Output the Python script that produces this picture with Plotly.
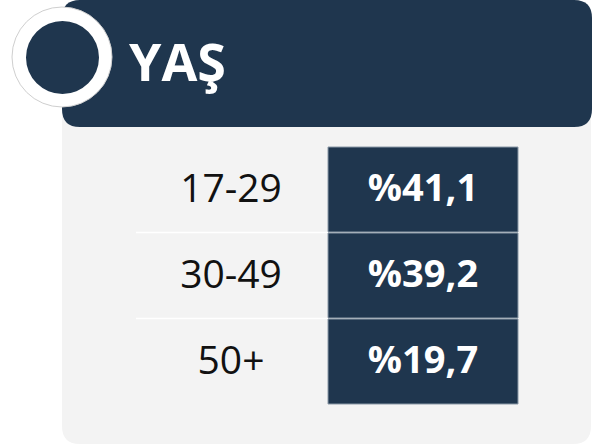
import plotly.graph_objects as go

title = "YAŞ"
age_groups = ["17-29", "30-49", "50+"]
shares = [41.1, 39.2, 19.7]
value_labels = ["%" + f"{v:.1f}".replace(".", ",") for v in shares]

DARK = "#1f364e"
GRAY = "#f3f3f3"
W, H = 592, 445

fig = go.Figure()

def rrect(x0, y0, x1, y1, r, corners=(True, True, True, True)):
    tl, tr, br, bl = corners
    p = []
    p.append(f"M {x0 + (r if tl else 0)},{y0}")
    if tr:
        p.append(f"L {x1 - r},{y0} Q {x1},{y0} {x1},{y0 + r}")
    else:
        p.append(f"L {x1},{y0}")
    if br:
        p.append(f"L {x1},{y1 - r} Q {x1},{y1} {x1 - r},{y1}")
    else:
        p.append(f"L {x1},{y1}")
    if bl:
        p.append(f"L {x0 + r},{y1} Q {x0},{y1} {x0},{y1 - r}")
    else:
        p.append(f"L {x0},{y1}")
    if tl:
        p.append(f"L {x0},{y0 + r} Q {x0},{y0} {x0 + r},{y0}")
    else:
        p.append(f"L {x0},{y0}")
    p.append("Z")
    return " ".join(p)

shapes = []
# gray panel
shapes.append(dict(type="path", path=rrect(62, 60, 591, 444, 18),
                   fillcolor=GRAY, line=dict(width=0), layer="below"))
# header
shapes.append(dict(type="path", path=rrect(62, 0, 592, 127, 18),
                   fillcolor=DARK, line=dict(width=0), layer="below"))
# circle
shapes.append(dict(type="circle", x0=12, y0=7, x1=112, y1=107,
                   fillcolor="white", line=dict(color="#cfcfcf", width=1),
                   layer="below"))
shapes.append(dict(type="circle", x0=26, y0=21, x1=99, y1=94,
                   fillcolor=DARK, line=dict(width=0), layer="below"))

row_top0, row_pitch, row_h = 147, 86, 85
box_x0, box_x1 = 328, 518
row_centers = []
for i, _ in enumerate(age_groups):
    y0 = row_top0 + i * row_pitch
    y1 = y0 + row_h
    row_centers.append((y0 + y1) / 2)
    shapes.append(dict(type="rect", x0=box_x0, x1=box_x1, y0=y0, y1=y1,
                       fillcolor=DARK, line=dict(color="#8a98a6", width=1),
                       layer="below"))
    if i < len(age_groups) - 1:
        ys = y1 + 0.5
        shapes.append(dict(type="line", x0=136, x1=box_x0, y0=ys, y1=ys,
                           line=dict(color="white", width=1.5),
                           layer="below"))

fig.add_trace(go.Scatter(
    x=[231] * len(age_groups), y=[c + 3 for c in row_centers], mode="text",
    text=age_groups, textposition="middle center",
    textfont=dict(family="Open Sans", size=39, color="#111111"),
    hoverinfo="skip", showlegend=False))

fig.add_trace(go.Scatter(
    x=[(box_x0 + box_x1) / 2] * len(shares), y=[c + 2 for c in row_centers],
    mode="text", text=[f"<b>{t}</b>" for t in value_labels],
    textposition="middle center",
    textfont=dict(family="Open Sans", size=38, color="white"),
    hoverinfo="skip", showlegend=False))

fig.add_annotation(x=127, y=60, text=f"<b>{title}</b>", showarrow=False,
                   xanchor="left", yanchor="middle",
                   font=dict(family="Open Sans", size=52, color="white"))

fig.update_layout(
    width=W, height=H, margin=dict(l=0, r=0, t=0, b=0),
    paper_bgcolor="white", plot_bgcolor="rgba(0,0,0,0)",
    shapes=shapes,
    xaxis=dict(range=[0, W], visible=False, fixedrange=True),
    yaxis=dict(range=[H, 0], visible=False, fixedrange=True),
)

fig.write_html("out.html", config={"displayModeBar": False},
               post_script="document.body.style.margin='0';"
                           "document.body.style.overflow='hidden';")
